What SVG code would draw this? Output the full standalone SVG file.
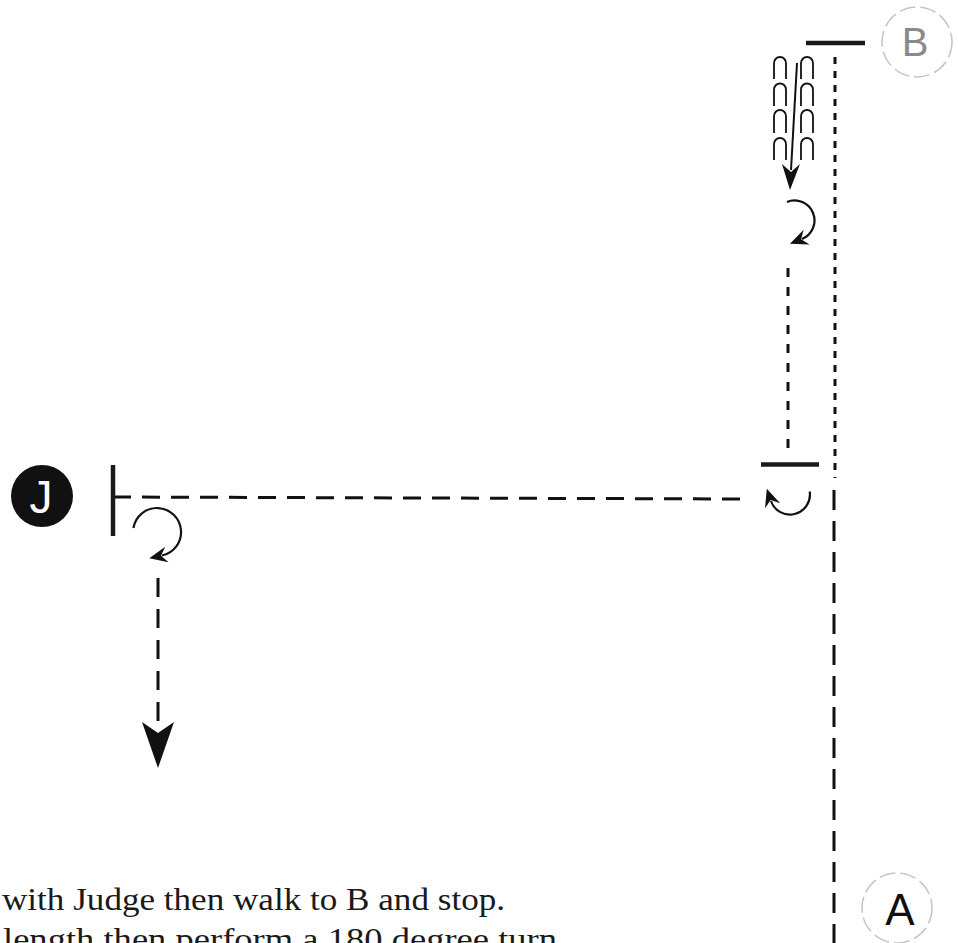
<svg xmlns="http://www.w3.org/2000/svg" width="958" height="943" viewBox="0 0 958 943">
<defs>
<style>
.dash{fill:none;stroke:#111;stroke-width:3}
.bar{stroke:#1a1a1a;stroke-width:4.5;fill:none}
.arch{fill:none;stroke:#111;stroke-width:1.8}
.turn{fill:none;stroke:#111;stroke-width:2.2}
.ring{fill:#fff;stroke:#c4c4c4;stroke-width:1.5;stroke-dasharray:16 5}
.lbl{font-family:"Liberation Sans",Arial,sans-serif;text-anchor:middle}
.txt{font-family:"Liberation Serif","Times New Roman",serif;font-size:32px;fill:#1a1a1a}
</style>
<marker id="barb" viewBox="-8 -10 24 20" refX="0" refY="0" markerWidth="24" markerHeight="20" markerUnits="userSpaceOnUse" orient="auto">
<path d="M13,0 L-5,-8 L1,0 L-5,8 Z" fill="#111"/>
</marker>
</defs>
<rect width="958" height="943" fill="#fff"/>

<g id="connectors">
<line class="dash" x1="835" y1="57" x2="835" y2="478" stroke-dasharray="7 7"/>
<line class="dash" x1="834" y1="490" x2="834" y2="943" stroke-dasharray="20 11"/>
<line class="dash" x1="788" y1="268" x2="788" y2="452" stroke-dasharray="9 10"/>
<line class="dash" x1="113" y1="497" x2="742" y2="499" stroke-dasharray="18 11"/>
<line class="dash" x1="158" y1="578" x2="158" y2="726" stroke-dasharray="19 12" stroke-width="3.5"/>
<polygon points="142,722 158,733 174,722 158,768" fill="#111"/>
<line x1="797" y1="63" x2="791" y2="170" stroke="#111" stroke-width="2"/>
<polygon points="782,164 791,172 800,164 790,190" fill="#111"/>
<path class="turn" d="M787,202 A19,19 0 1 1 802,239" marker-end="url(#barb)"/>
<path class="turn" d="M809.7,491.5 A20,20 0 0 1 771,501" marker-end="url(#barb)"/>
<path class="turn" d="M133.4,528 A24,24 0 1 1 162,555.5" marker-end="url(#barb)"/>
</g>

<g id="arches">
<path class="arch" d="M774,79 V63 A6,6 0 0 1 786,63 V79"/>
<path class="arch" d="M774,106 V89.5 A6,6 0 0 1 786,89.5 V106"/>
<path class="arch" d="M774,133 V116 A6,6 0 0 1 786,116 V133"/>
<path class="arch" d="M774,160 V144 A6,6 0 0 1 786,144 V160"/>
<path class="arch" d="M801,79 V63 A6,6 0 0 1 813,63 V79"/>
<path class="arch" d="M801,106 V89.5 A6,6 0 0 1 813,89.5 V106"/>
<path class="arch" d="M801,133 V116 A6,6 0 0 1 813,116 V133"/>
<path class="arch" d="M801,160 V144 A6,6 0 0 1 813,144 V160"/>
</g>

<g id="stop-B-bar"><line class="bar" x1="806" y1="43" x2="865" y2="43"/></g>
<g id="stop-mid-bar"><line class="bar" x1="761" y1="464.5" x2="819" y2="464.5" stroke-width="4"/></g>
<g id="stop-J-bar"><line class="bar" x1="113" y1="465" x2="113" y2="536" stroke-width="3"/></g>

<g id="node-B">
<circle class="ring" cx="917" cy="42" r="35"/>
<text class="lbl" x="915" y="56" font-size="40" fill="#8a8a8a">B</text>
</g>
<g id="node-A">
<circle class="ring" cx="897" cy="908" r="35"/>
<text class="lbl" x="900" y="925" font-size="44" fill="#111">A</text>
</g>
<g id="node-J">
<circle cx="42" cy="496" r="31" fill="#111"/>
<text class="lbl" x="41" y="513" font-size="46" fill="#fff">J</text>
</g>

<g id="caption">
<text class="txt" x="2" y="910" textLength="503" lengthAdjust="spacingAndGlyphs">with Judge then walk to B and stop.</text>
<text class="txt" x="3" y="950" textLength="554" lengthAdjust="spacingAndGlyphs">length then perform a 180 degree turn</text>
</g>
</svg>
